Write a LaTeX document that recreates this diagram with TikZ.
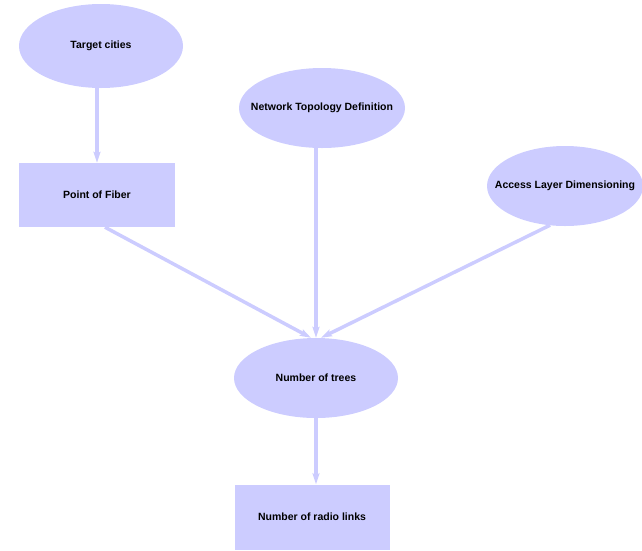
\documentclass[tikz,border=0pt]{standalone}
\usepackage{fontspec}
\setmainfont{Liberation Sans}
\usetikzlibrary{arrows.meta,shapes.geometric,calc}
\definecolor{lav}{RGB}{204,204,255}
\newcommand{\ztext}[1]{\makebox[0pt]{#1}}
\tikzset{
  ell/.style={ellipse,fill=lav,draw=none,inner sep=0pt,font=\bfseries\fontsize{10.5}{12}\selectfont},
  boxnode/.style={rectangle,fill=lav,draw=none,inner sep=0pt,font=\bfseries\fontsize{10.5}{12}\selectfont},
  conn/.style={draw=lav,line width=3.5pt,-{Stealth[length=11pt,width=7pt,inset=2pt]}}
}
\begin{document}
\begin{tikzpicture}[x=1pt,y=-1pt]
\useasboundingbox (0,0) rectangle (642,550);
\node[ell,minimum width=164pt,minimum height=84pt] (tc) at (101,46) {\ztext{Target cities}};
\node[ell,minimum width=166pt,minimum height=80pt] (ntd) at (322,108) {\ztext{Network Topology Definition}};
\node[ell,minimum width=156pt,minimum height=80pt] (ald) at (565,186) {\ztext{Access Layer Dimensioning}};
\node[boxnode,minimum width=156pt,minimum height=64pt] (pof) at (97,195) {Point of Fiber};
\node[ell,minimum width=164pt,minimum height=80pt] (nt) at (316,378) {\ztext{Number of trees}};
\node[boxnode,minimum width=155pt,minimum height=65pt] (nrl) at (312,517) {Number of radio links};
\draw[conn] (tc.south -| pof.north) -- (pof.north);
\draw[conn] ($(pof.south)+(8,0)$) -- ($(nt.north)+(-5,0)$);
\draw[conn] (ntd.south -| nt.north) -- (nt.north);
\draw[conn] ($(ald.south)+(-15,-1)$) -- ($(nt.north)+(5,0)$);
\draw[conn] (nt.south) -- (nt.south |- nrl.north);
\end{tikzpicture}
\end{document}
